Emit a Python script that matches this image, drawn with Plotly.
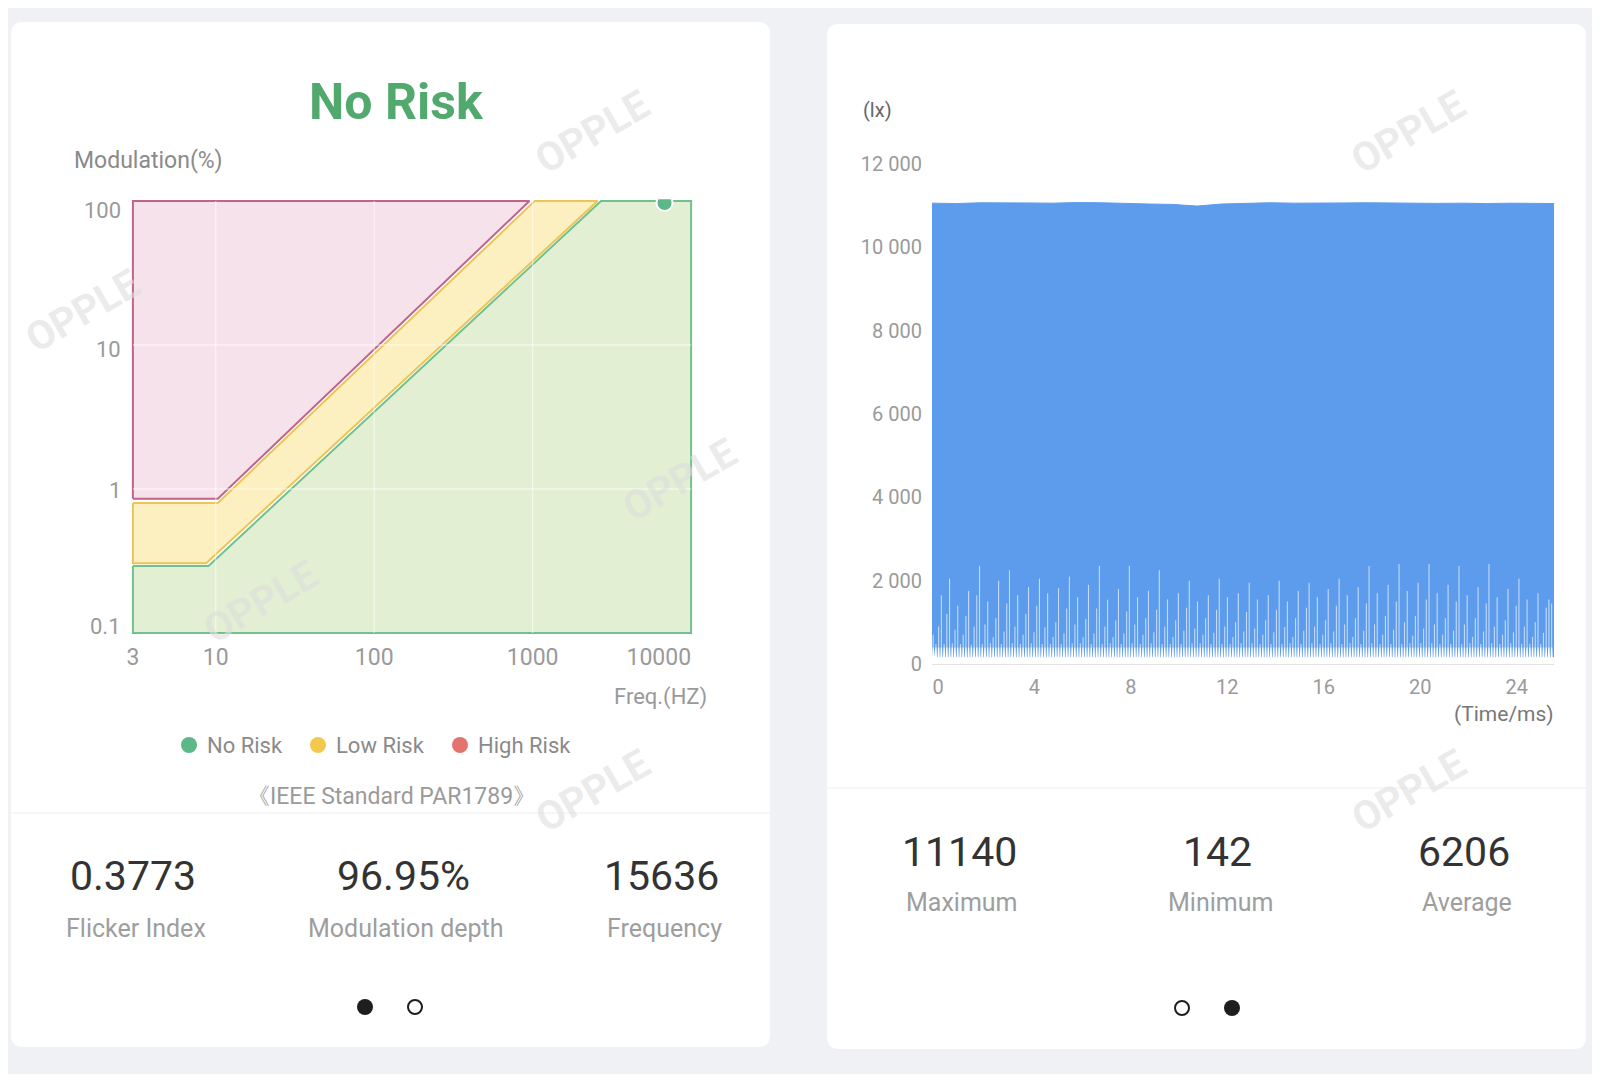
import numpy as np
import plotly.graph_objects as go

# page has an 8px body margin, so the figure is drawn 8px in and 16px smaller
OX, OY = 8, 8
FW, FH = 1584, 1066

# ---- left chart: IEEE PAR1789 risk regions (freq Hz, modulation %) ----
red_f = [3, 10.3, 955, 3, 3]
red_m = [0.857, 0.857, 100, 100, 0.857]
yellow_f = [3, 10.3, 1030, 2570, 8.7, 3, 3]
yellow_m = [0.80, 0.80, 100, 100, 0.305, 0.305, 0.80]
green_f = [3, 9.0, 2700, 10000, 10000, 3, 3]
green_m = [0.292, 0.292, 100, 100, 0.1, 0.1, 0.292]
point_f = [6800]
point_m = [96.95]

freq_ticks = [3, 10, 100, 1000, 10000]
freq_grid = [10, 100, 1000]
mod_ticks = [0.1, 1, 10, 100]
mod_labels = ["0.1", "1", "10", "100"]
mod_grid = [1, 10]

stats_left = [("0.3773", "Flicker Index"), ("96.95%", "Modulation depth"), ("15636", "Frequency")]
stats_right = [("11140", "Maximum"), ("142", "Minimum"), ("6206", "Average")]

# ---- right chart: illuminance waveform (ms, lx) ----
top_t0, top_step = -0.25, 1.0
top_lx = [11060, 11050, 11070, 11060, 11065, 11060, 11075, 11070, 11050, 11040,
          11030, 10990, 11040, 11050, 11070, 11060, 11055, 11065, 11070, 11060,
          11065, 11055, 11060, 11050, 11060, 11055, 11050]
low_lx = 160
notch_lx = 400
spike_t0, spike_step = -0.2, 0.113
spike_lx = [
    700, 480, 900, 1650, 480, 1200,
    2050, 500, 820, 1400, 480, 700, 1150, 1750, 460, 900, 1650,
    2350, 480, 950, 1500, 500, 640, 1100, 2000, 480, 780, 1450,
    2250, 500, 900, 1650, 480, 700, 1200, 1850, 500, 760, 1400,
    2050, 480, 880, 1700, 480, 650, 1000, 1820, 480, 730, 1330,
    2100, 500, 950, 1600, 500, 640, 1080, 1900, 480, 730, 1330,
    2350, 480, 900, 1540, 500, 640, 1050, 1800, 480, 730, 1260,
    2350, 500, 950, 1600, 480, 700, 1100, 1760, 500, 760, 1300,
    2250, 480, 900, 1550, 480, 650, 1050, 1700, 480, 800, 1350,
    2000, 500, 850, 1500, 500, 700, 1100, 1650, 480, 750, 1300,
    2050, 480, 900, 1600, 480, 650, 1000, 1700, 500, 780, 1250,
    1950, 500, 850, 1550, 480, 700, 1050, 1650, 480, 760, 1300,
    2000, 480, 880, 1500, 500, 650, 1100, 1750, 480, 800, 1350,
    1950, 500, 900, 1600, 480, 700, 1050, 1800, 500, 780, 1400,
    2050, 480, 950, 1650, 500, 650, 1100, 1850, 480, 800, 1450,
    2350, 500, 950, 1700, 480, 700, 1150, 1900, 480, 820, 1500,
    2400, 480, 1000, 1750, 500, 680, 1150, 1950, 500, 850, 1550,
    2400, 500, 950, 1700, 480, 700, 1100, 1900, 480, 800, 1500,
    2350, 480, 950, 1650, 500, 650, 1100, 1850, 480, 780, 1450,
    2400, 500, 900, 1600, 480, 700, 1050, 1800, 500, 760, 1400,
    2050, 480, 900, 1550, 480, 650, 1000, 1700, 480, 750, 1350,
    1550, 1450,
]
time_ticks = [0, 4, 8, 12, 16, 20, 24]

GREEN, YELLOW, RED = "#5cb887", "#f3c94d", "#e4736d"
BLUE = "#5d9cec"


def px(x):
    return (x - OX) / FW


def py(y):
    return 1 - (y - OY) / FH


def note(x, y, text, size, color, xanchor="center", **kw):
    return dict(x=px(x), y=py(y), xref="paper", yref="paper", text=text, showarrow=False,
                xanchor=xanchor, yanchor="middle", font=dict(size=size, color=color), **kw)


def rounded_rect(x0, y0, x1, y1, r=12):
    rx, ry = r / FW, r / FH
    a, b, c, d = px(x0), py(y1), px(x1), py(y0)
    path = (f"M {a + rx},{b} L {c - rx},{b} Q {c},{b} {c},{b + ry} L {c},{d - ry} "
            f"Q {c},{d} {c - rx},{d} L {a + rx},{d} Q {a},{d} {a},{d - ry} "
            f"L {a},{b + ry} Q {a},{b} {a + rx},{b} Z")
    return dict(type="path", path=path, xref="paper", yref="paper", layer="below",
                fillcolor="white", line=dict(width=0))


def circle(x, y, r, fill, line_color=None, lw=0):
    return dict(type="circle", xref="paper", yref="paper", x0=px(x - r), x1=px(x + r),
                y0=py(y + r), y1=py(y - r), fillcolor=fill,
                line=dict(color=line_color or fill, width=lw))


fig = go.Figure()

# left: regions
fig.add_trace(go.Scatter(x=green_f, y=green_m, mode="lines", fill="toself", fillcolor="#e2efd3",
                         line=dict(color="#72c08f", width=2), hoverinfo="skip"))
fig.add_trace(go.Scatter(x=yellow_f, y=yellow_m, mode="lines", fill="toself", fillcolor="#fcefc0",
                         line=dict(color="#e8c65a", width=2), hoverinfo="skip"))
fig.add_trace(go.Scatter(x=red_f, y=red_m, mode="lines", fill="toself", fillcolor="#f6e2eb",
                         line=dict(color="#c0648c", width=2), hoverinfo="skip"))
# white grid lines drawn over the regions
gx, gy = [], []
for f in freq_grid:
    gx += [f, f, None]
    gy += [mod_ticks[0], mod_ticks[-1], None]
for m in mod_grid:
    gx += [freq_ticks[0], freq_ticks[-1], None]
    gy += [m, m, None]
fig.add_trace(go.Scatter(x=gx, y=gy, mode="lines", line=dict(color="rgba(255,255,255,0.55)", width=1.3),
                         hoverinfo="skip"))
fig.add_trace(go.Scatter(x=point_f, y=point_m, mode="markers",
                         marker=dict(size=16, color=GREEN, line=dict(color="white", width=2))))

# right: waveform
top_t = [top_t0 + i * top_step for i in range(len(top_lx))]
fig.add_trace(go.Scatter(x=top_t, y=top_lx, mode="lines", fill="tozeroy", fillcolor=BLUE,
                         line=dict(color=BLUE, width=1), xaxis="x2", yaxis="y2", hoverinfo="skip"))
spike_t = spike_t0 + spike_step * np.arange(len(spike_lx))
wx, wy = [top_t0], [low_lx]
for t in spike_t:
    wx += [t - 0.045, t - 0.028, t + 0.028, t + 0.045]
    wy += [low_lx, notch_lx, notch_lx, low_lx]
wx.append(25.6)
wy.append(low_lx)
fig.add_trace(go.Scatter(x=wx, y=wy, mode="lines", fill="tozeroy", fillcolor="white",
                         line=dict(width=0, color="white"), xaxis="x2", yaxis="y2", hoverinfo="skip"))
nan = np.full(len(spike_lx), np.nan)
sx = np.column_stack([spike_t, spike_t, nan]).ravel()
sy = np.column_stack([np.full(len(spike_lx), notch_lx), spike_lx, nan]).ravel()
fig.add_trace(go.Scatter(x=sx, y=sy, mode="lines", line=dict(color="rgba(200,221,249,0.95)", width=1.1),
                         connectgaps=False, xaxis="x2", yaxis="y2", hoverinfo="skip"))

shapes = [rounded_rect(11, 22, 770, 1047), rounded_rect(827, 24, 1586, 1049)]
# separators
shapes.append(dict(type="line", xref="paper", yref="paper", x0=px(11), x1=px(770), y0=py(813), y1=py(813),
                   line=dict(color="#eeeeee", width=1)))
shapes.append(dict(type="line", xref="paper", yref="paper", x0=px(827), x1=px(1586), y0=py(788), y1=py(788),
                   line=dict(color="#eeeeee", width=1)))
# legend dots
shapes += [circle(189, 745, 8, GREEN), circle(318, 745, 8, YELLOW), circle(460, 745, 8, RED)]
# pager dots
shapes += [circle(365, 1007, 8, "#1e1e1e"), circle(415, 1007, 7, "white", "#1e1e1e", 2),
           circle(1182, 1008, 7, "white", "#1e1e1e", 2), circle(1232, 1008, 8, "#1e1e1e")]

ann = [
    note(396, 102, "<b>No Risk</b>", 50, "#52a96e"),
    note(72, 161, "Modulation(%)", 23, "#8a8a8a", xanchor="left"),
    note(709, 697, "Freq.(HZ)", 22, "#999999", xanchor="right"),
    note(205, 745, "No Risk", 22, "#8a8a8a", xanchor="left"),
    note(334, 745, "Low Risk", 22, "#8a8a8a", xanchor="left"),
    note(476, 745, "High Risk", 22, "#8a8a8a", xanchor="left"),
    note(391, 796, "《IEEE Standard PAR1789》", 23, "#9a9a9a"),
    note(878, 110, "(lx)", 20, "#666666"),
    note(1556, 714, "(Time/ms)", 21, "#777777", xanchor="right"),
]
# y tick labels of the log chart, nudged inward like the original
for v, lab, dy in zip(mod_ticks, mod_labels, [6, -2, -4, -9]):
    ann.append(dict(x=px(123), y=np.log10(v), xref="paper", yref="y", text=lab, showarrow=False,
                    xanchor="right", yanchor="middle", yshift=dy, font=dict(size=22, color="#9a9a9a")))
for (val, lab), x in zip(stats_left, [133, 403, 661]):
    ann.append(note(x, 876, val, 41, "#333333"))
    ann.append(note(x + 3, 928, lab, 25, "#9e9e9e"))
for (val, lab), x in zip(stats_right, [959, 1217, 1464]):
    ann.append(note(x, 852, val, 41, "#333333"))
    ann.append(note(x + 3, 902, lab, 25, "#9e9e9e"))
# watermarks
for x, y in [(592, 133), (82, 311), (679, 480), (260, 602), (592, 791), (1408, 133), (1408, 791)]:
    ann.append(note(x, y, "<b>OPPLE</b>", 40, "rgba(222,222,222,0.6)", textangle=-30))

fig.update_layout(
    width=FW, height=FH, autosize=False, margin=dict(l=0, r=0, t=0, b=0, pad=0, autoexpand=False),
    paper_bgcolor="#f0f1f4", plot_bgcolor="rgba(0,0,0,0)",
    font=dict(family="Roboto", color="#999999"),
    separators=". ", showlegend=False,
    shapes=shapes, annotations=ann,
    xaxis=dict(type="log", domain=[px(131), px(693)], range=[np.log10(3) - 0.012, 4.012],
               tickvals=freq_ticks, ticktext=["3", "10", "100", "1000", "10000" + "\u2007" * 5],
               showgrid=False, zeroline=False, showline=False, ticks="",
               tickfont=dict(size=23, color="#9a9a9a"),
               ticklabelstandoff=6, fixedrange=True, automargin=False),
    yaxis=dict(type="log", domain=[py(634.7), py(199.3)], range=[-1.012, 2.012],
               showticklabels=False, showgrid=False, zeroline=False, showline=False, ticks="",
               fixedrange=True, automargin=False),
    xaxis2=dict(domain=[px(932), px(1554)], range=[-0.25, 25.55], tickvals=time_ticks,
                showgrid=False, zeroline=False, showline=True, linecolor="#e3e3e3", ticks="",
                tickfont=dict(size=20, color="#9a9a9a"), ticklabelstandoff=5, anchor="y2",
                automargin=False),
    yaxis2=dict(domain=[py(664), py(164)], range=[0, 12000], dtick=2000, tickformat=",d",
                showgrid=True, gridcolor="#eeeeee", zeroline=False, showline=False, ticks="",
                tickfont=dict(size=20, color="#9a9a9a"), ticklabelstandoff=9, anchor="x2",
                automargin=False),
)

fig.write_html("out.html")
